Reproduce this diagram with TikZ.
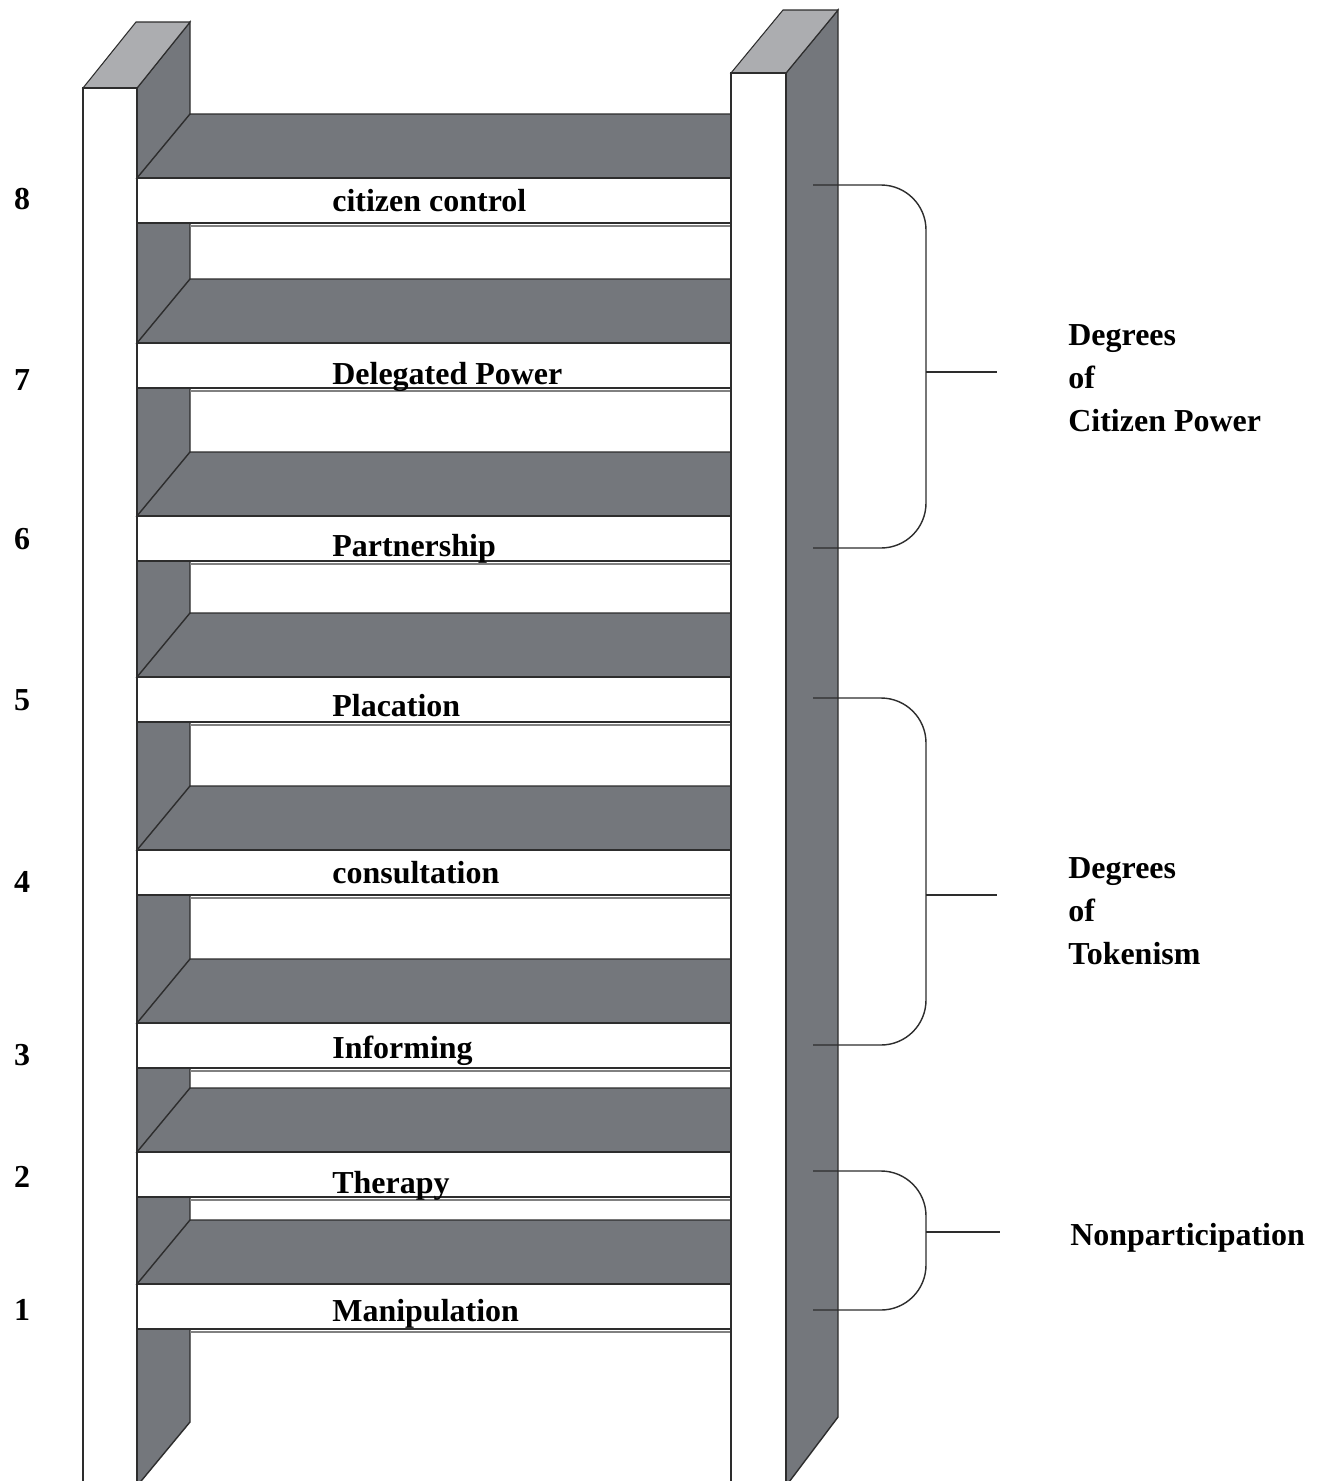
\documentclass[tikz,border=0pt]{standalone}
\usepackage{fontspec}
\setmainfont{Liberation Serif}
\usetikzlibrary{calc,positioning}
\definecolor{railgray}{RGB}{116,119,124}
\definecolor{capgray}{RGB}{172,173,176}
\definecolor{edge}{RGB}{45,45,45}
\tikzset{
  face/.style={fill=railgray, draw=edge, line width=0.8pt},
  capface/.style={fill=capgray, draw=edge, line width=0.6pt},
  front/.style={fill=white, draw=edge, line width=0.8pt},
  lbl/.style={font=\fontsize{18.2}{24.4}\selectfont\bfseries, inner sep=0pt},
  brace/.style={draw=edge, line width=0.8pt, rounded corners=0.9cm}
}
\begin{document}
\begin{tikzpicture}[x=0.02cm,y=-0.02cm]
\clip (0,0) rectangle (1322,1481);
\fill[white] (0,0) rectangle (1322,1481);

\draw[face] (137,88) -- (190,22) -- (190,1422) -- (137,1486) -- cycle;
\draw[capface] (83,88) -- (137,88) -- (190,22) -- (136,22) -- cycle;
\draw[front] (83,88) rectangle (137,1490);

\foreach \ft/\tb/\nb/\num/\name in {178/211/209/8/citizen control, 343/384/390/7/Delegated Power,
    516/556/549/6/Partnership, 677/716/710/5/Placation, 850/883/892/4/consultation,
    1023/1058/1065/3/Informing, 1152/1193/1187/2/Therapy, 1284/1321/1320/1/Manipulation}{
  \draw[face] (137,\ft) -- (190,\ft-64) -- (731,\ft-64) -- (731,\ft) -- cycle;
  \draw[front] (137,\ft) rectangle (731,\ft+45);
  \draw[edge!60, line width=0.6pt] (190,\ft+48) -- (731,\ft+48);
  \node[lbl, anchor=base west] (rung\num) at (332,\tb) {\name};
  \node[lbl, anchor=base] (num\num) at (22,\nb) {\num};
}

\draw[face] (786,73) -- (838,10) -- (838,1417) -- (786,1486) -- cycle;
\draw[capface] (731,73) -- (786,73) -- (838,10) -- (783,10) -- cycle;
\draw[front] (731,73) rectangle (786,1490);

\node[lbl, align=left, anchor=west] (citpower) at (1068,378) {Degrees\\of\\Citizen Power};
\node[lbl, align=left, anchor=west] (tokenism) at (1068,911) {Degrees\\of\\Tokenism};
\node[lbl, anchor=base west] (nonpart) at (1070,1245) {Nonparticipation};

\coordinate (cp top) at (813,185);
\coordinate (cp bot) at (813,548);
\coordinate (cp mid) at (926,372);
\coordinate (cp end) at (997,372);
\coordinate (tk top) at (813,698);
\coordinate (tk bot) at (813,1045);
\coordinate (tk mid) at (926,895);
\coordinate (tk end) at (997,895);
\coordinate (np top) at (813,1171);
\coordinate (np bot) at (813,1310);
\coordinate (np mid) at (926,1232);
\coordinate (np end) at (1000,1232);

\draw[brace] (cp top) -- (cp top -| cp mid) -- (cp bot -| cp mid) -- (cp bot);
\draw[edge, line width=0.8pt] (cp mid) -- (cp end);
\draw[brace] (tk top) -- (tk top -| tk mid) -- (tk bot -| tk mid) -- (tk bot);
\draw[edge, line width=0.8pt] (tk mid) -- (tk end);
\draw[brace] (np top) -- (np top -| np mid) -- (np bot -| np mid) -- (np bot);
\draw[edge, line width=0.8pt] (np mid) -- (np end);
\end{tikzpicture}
\end{document}
